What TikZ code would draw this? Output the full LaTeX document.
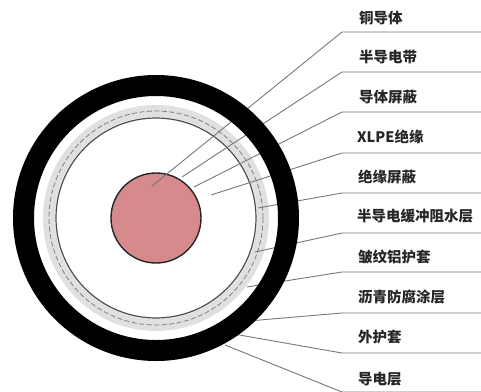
\documentclass[tikz,border=0pt]{standalone}
\usepackage{fontspec}
\newfontfamily\cjk{Noto Sans CJK SC}
\definecolor{copper}{RGB}{214,138,140}
\definecolor{leader}{RGB}{120,120,120}
\definecolor{band}{RGB}{224,224,224}
\begin{document}
\begin{tikzpicture}[x=1pt,y=-1pt,
  lbl/.style={anchor=west,inner sep=0pt,font=\cjk\bfseries\fontsize{14.5}{16}\selectfont,text=black!85},
  leadline/.style={draw=leader,line width=0.9pt}]
\useasboundingbox (0,0) rectangle (481,391);
\clip (0,0) rectangle (481,391);
\fill[white] (0,0) rectangle (481,391);

% cable cross-section, centre at (156,218)
\coordinate (c) at (156,218);
\fill[band] (c) circle[radius=113];
\fill[white] (c) circle[radius=101];
\draw[black!50,line width=0.8pt,dash pattern=on 5pt off 2.5pt] (c) circle[radius=107];
\draw[black!70,line width=1.2pt] (c) circle[radius=100];
\draw[black!85,fill=copper,line width=1.4pt] (c) circle[radius=45];

% labels
\node[lbl] (t1)  at (359,18)  {铜导体};
\node[lbl] (t2)  at (359,57)  {半导电带};
\node[lbl] (t3)  at (359,97)  {导体屏蔽};
\node[lbl] (t4)  at (357,137) {XLPE绝缘};
\node[lbl] (t5)  at (358,177) {绝缘屏蔽};
\node[lbl] (t6)  at (357,216) {半导电缓冲阻水层};
\node[lbl] (t7)  at (358,257) {皱纹铝护套};
\node[lbl] (t8)  at (358,297) {沥青防腐涂层};
\node[lbl] (t9)  at (358,337) {外护套};
\node[lbl] (t10) at (358,379) {导电层};

% leader end points on the layers
\coordinate (e1)  at (152,186);
\coordinate (e2)  at (182,177);
\coordinate (e3)  at (194,187);
\coordinate (e4)  at (211,195);
\coordinate (e5)  at (258,208);
\coordinate (e6)  at (255,252);
\coordinate (e7)  at (247,287);
\coordinate (e8)  at (225,323);
\coordinate (e9)  at (228,333);
\coordinate (e10) at (225,345);

% bends and free ends of the leaders
\foreach \i/\y in {1/32,2/72,3/112,4/153,5/193,6/233,7/272,8/313,9/353}{
  \coordinate (b\i) at (342,\y);
  \coordinate (r\i) at (482,\y);
}
\coordinate (b10) at (342,392);
\coordinate (r10) at (482,392);

\foreach \i in {1,...,10}{
  \draw[leadline] (e\i) -- (b\i) -- (r\i);
}

% outer jacket drawn over the leaders
\draw[black,line width=21pt] (c) circle[radius=132.5];
\end{tikzpicture}
\end{document}
